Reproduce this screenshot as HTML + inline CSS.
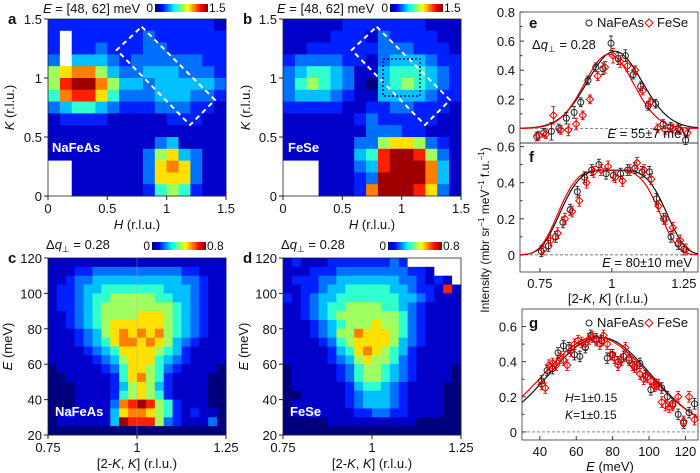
<!DOCTYPE html>
<html><head><meta charset="utf-8"><style>
body{margin:0;background:#fff;}
svg{display:block;font-family:"Liberation Sans",sans-serif;}
</style></head><body>
<svg id="fig" width="700" height="473" viewBox="0 0 700 473" xmlns="http://www.w3.org/2000/svg">
<defs>
<linearGradient id="jet" x1="0" x2="1" y1="0" y2="0">
<stop offset="0" stop-color="#00007f"/><stop offset="0.12" stop-color="#0000ff"/><stop offset="0.37" stop-color="#00ffff"/><stop offset="0.62" stop-color="#ffff00"/><stop offset="0.87" stop-color="#ff0000"/><stop offset="1" stop-color="#7f0000"/>
</linearGradient>
</defs>
<g id="root"></g>
</svg>
<script>
// ---------- heatmap data (digit levels 0..a, w = no data) ----------
const mapA = ["222222222222221","2w2222223222222","2w2232223322222","3w4443233333322","678864334443332","69aa86443444443","589975333444332","345543222333221","122221111122211","111111111111111","111111111341111","111111113674311","ww1111113787311","ww1111113777311","ww1111112565211"];
const mapB = ["111112222222111","111122213222211","112222223332221","233332213444322","345543114555432","356543104565432","344432114444322","222221122332221","111111232222211","111111133322111","111111336776321","111111459aa9631","www111349aaa841","www11123aaaa841","www11128aaa9731"];
const mapC = ["11111111111111111111","11122333333333322111","11233444444444433211","12234455555554443211","12234556666655443211","12234566666666543211","11234566667776543211","11234567777776543211","11123467878786543211","11123457887876432111","11112345777765421111","11111234677754321111","01111123577653211110","00111112578652111100","00011112467642111100","00011112567652111100","0001111389a965211100","01211114788765212110","01111114a99963211130","00000000000000000000"];
const mapD = ["12111222222232wwwwww","11122233333333221www","1222334444444332121w","11223445555544322191","21234455555554432111","11234556666554321111","11234566666665321111","11123456667665321111","11123466877765321111","11112356777764321111","11111245787654211111","11111234676653211111","01111123566543211110","01111123566543211110","01111112455432111100","00111112344432111100","01111112344432111100","01121111223322111100","00000111111111100000","00000000000000000000"];
const hkTicks = [0, 0.5, 1, 1.5];
const hkTickLabels = ["0", "0.5", "1", "1.5"];
const qTicks = [0.75, 1, 1.25];
const qTickLabels = ["0.75", "1", "1.25"];
const eTicks = [20, 40, 60, 80, 100, 120];
// ---------- cut data ----------
const eX = [0.739,0.764,0.79,0.816,0.842,0.869,0.892,0.917,0.944,0.969,0.997,1.022,1.047,1.074,1.1,1.126,1.152,1.178,1.204,1.23,1.256];
const eNa = [-0.055,-0.03,-0.02,0.0,0.07,0.11,0.18,0.33,0.42,0.41,0.585,0.48,0.5,0.37,0.29,0.155,0.17,0.03,0.01,0.0,-0.08];
const eFe = [-0.05,-0.04,0.09,-0.01,-0.01,0.03,0.09,0.2,0.36,0.42,0.5,0.46,0.43,0.4,0.26,0.18,0.0,-0.01,0.0,-0.01,-0.03];
const eErr = [0.03,0.03,0.06,0.03,0.04,0.04,0.03,0.03,0.03,0.04,0.05,0.04,0.04,0.03,0.03,0.03,0.03,0.03,0.03,0.03,0.03];
const fX = [0.755,0.78,0.805,0.83,0.855,0.88,0.905,0.93,0.955,0.98,1.005,1.03,1.055,1.08,1.105,1.13,1.155,1.18,1.205,1.23,1.25];
const fNa = [0.02,0.05,0.1,0.18,0.25,0.35,0.43,0.47,0.5,0.45,0.44,0.45,0.47,0.48,0.46,0.46,0.31,0.2,0.1,0.06,0.03];
const fFe = [0.03,0.08,0.12,0.2,0.24,0.3,0.4,0.46,0.47,0.49,0.43,0.41,0.47,0.51,0.47,0.42,0.27,0.2,0.15,0.08,0.03];
const gNaE = [41,44,47,50,53,56,59,62,65,68,71,74,77,80,83,86,89,92,95,98,101,104,107,110,113,116,119,122,125];
const gNa = [0.29,0.35,0.36,0.45,0.49,0.48,0.44,0.43,0.48,0.55,0.53,0.52,0.42,0.44,0.4,0.43,0.41,0.37,0.39,0.32,0.24,0.27,0.25,0.2,0.16,0.1,0.05,0.11,0.16];
const gFeE = [41,43,45,47,49,51,53,55,57,59,61,63,65,67,69,71,73,75,77,79,81,83,85,87,89,91,93,95,97,99,101,103,105,107,109,111,113,116,119,122,125];
const gFe = [0.27,0.25,0.38,0.39,0.38,0.42,0.41,0.38,0.46,0.5,0.52,0.51,0.5,0.53,0.54,0.52,0.5,0.55,0.5,0.44,0.42,0.38,0.41,0.48,0.42,0.38,0.37,0.33,0.3,0.31,0.29,0.26,0.27,0.17,0.15,0.14,0.15,0.2,0.06,0.2,0.07];
// fit parameters [amplitude, center, width]
const fitE_Na = [0.53, 1.01, 0.095];
const fitE_Fe = [0.51, 0.99, 0.085];
const fitF_Na = [0.47, 1.005, 0.17];
const fitF_Fe = [0.47, 0.99, 0.162];
const fitG_Na = [0.54, 73, 28];
const fitG_Fe = [0.54, 71, 29];

const NS = "http://www.w3.org/2000/svg";
const root = document.getElementById("root");
const cmap = {'0':'#00007f','1':'#0000c8','2':'#0020ff','3':'#0070ff','4':'#00c0ff','5':'#30ffd0','6':'#a0ff60','7':'#ffe000','8':'#ff8000','9':'#ff2000','a':'#a00000','w':'#ffffff'};
function mk(tag, attrs, parent) {
  const el = document.createElementNS(NS, tag);
  for (const k in attrs) el.setAttribute(k, attrs[k]);
  (parent || root).appendChild(el);
  return el;
}
function txt(x, y, s, size, anchor, parent, extra) {
  const t = mk("text", Object.assign({x: x, y: y, "font-size": size, "text-anchor": anchor || "start", fill: "#111"}, extra || {}), parent);
  t.textContent = s;
  
  
  return t;
}
function lin(d0, d1, r0, r1) { return v => r0 + (v - d0) * (r1 - r0) / (d1 - d0); }

function heatmap(name, grid, x0, y0, w, h, xd, yd, xt, xtl, yt, ytl, xtitle, ytitle, yTitleX) {
  const g = mk("g", {});
  
  
  const rows = grid.length, cols = grid[0].length;
  const cw = w / cols, ch = h / rows;
  grid.forEach((row, r) => {
    for (let c = 0; c < cols; c++) {
      const cell = mk("rect", {x: x0 + c * cw, y: y0 + r * ch, width: cw + 0.4, height: ch + 0.4, fill: cmap[row[c]]}, g);
      
      
    }
  });
  const fr = mk("rect", {x: x0, y: y0, width: w, height: h, fill: "none", stroke: "#222", "stroke-width": 0.8}, g);
  
  
  const sx = lin(xd[0], xd[1], x0, x0 + w), sy = lin(yd[0], yd[1], y0 + h, y0);
  xt.forEach((v, i) => {
    mk("line", {x1: sx(v), x2: sx(v), y1: y0 + h, y2: y0 + h + 4, stroke: "#222"}, g);
    txt(sx(v), y0 + h + 17, xtl[i], 13, "middle", g);
  });
  yt.forEach((v, i) => {
    mk("line", {x1: x0 - 4, x2: x0, y1: sy(v), y2: sy(v), stroke: "#222"}, g);
    txt(x0 - 6, sy(v) + 5, ytl[i], 13, "end", g);
  });
  const xtt = txt(x0 + w / 2, y0 + h + 33, "", 13, "middle", g);
  xtt.innerHTML = xtitle;
  const ytt = txt(0, 0, "", 13, "middle", g, {transform: "translate(" + yTitleX + "," + (y0 + h / 2) + ") rotate(-90)"});
  ytt.innerHTML = ytitle;
  return {sx, sy};
}

const A = heatmap("heatmap-a", mapA, 48, 19, 178, 177, [0, 1.5], [0, 1.5], hkTicks, hkTickLabels, hkTicks, hkTickLabels, '<tspan font-style="italic">H</tspan> (r.l.u.)', '<tspan font-style="italic">K</tspan> (r.l.u.)', 14);
const B = heatmap("heatmap-b", mapB, 283, 19, 178, 177, [0, 1.5], [0, 1.5], hkTicks, hkTickLabels, hkTicks, hkTickLabels, '<tspan font-style="italic">H</tspan> (r.l.u.)', '<tspan font-style="italic">K</tspan> (r.l.u.)', 250);
const C = heatmap("heatmap-c", mapC, 48, 258, 178, 177, [0.75, 1.25], [20, 120], qTicks, qTickLabels, eTicks, eTicks.map(String), '[2-<tspan font-style="italic">K</tspan>, <tspan font-style="italic">K</tspan>] (r.l.u.)', '<tspan font-style="italic">E</tspan>  (meV)', 12);
const D = heatmap("heatmap-d", mapD, 283, 258, 178, 177, [0.75, 1.25], [20, 120], qTicks, qTickLabels, eTicks, eTicks.map(String), '[2-<tspan font-style="italic">K</tspan>, <tspan font-style="italic">K</tspan>] (r.l.u.)', '<tspan font-style="italic">E</tspan>  (meV)', 248);
mk("line", {x1: C.sx(1), x2: C.sx(1), y1: 258, y2: 435, stroke: "#aac", "stroke-width": 0.6, opacity: 0.6});

// dashed boxes
[[0,0],[235,0]].forEach(o => {
  const p = mk("polygon", {points: [[141.7,26.7],[215,100],[190,125],[116.7,50]].map(q => (q[0]+o[0]) + "," + q[1]).join(" "), fill: "none", stroke: "#fff", "stroke-width": 2, "stroke-dasharray": "5,4"});
  
  
});
const sq = mk("rect", {x: 383, y: 59, width: 37, height: 37, fill: "none", stroke: "#0000a0", "stroke-width": 1.5, "stroke-dasharray": "2,2"});



// panel labels & titles
[["a",8,24],["b",243,24],["c",8,263],["d",243,263],["e",529,28],["f",529,162],["g",529,328]].forEach(p => {
  const t = txt(p[1], p[2], p[0], 15, "start", null, {"font-weight": "bold"});
  
});
function wlabel(x, y, s) { const t = txt(x, y, s, 13, "start", null, {fill: "#fff", "font-weight": "bold"});  }
wlabel(52, 152, "NaFeAs"); wlabel(288, 152, "FeSe"); wlabel(55, 416, "NaFeAs"); wlabel(290, 416, "FeSe");
const t1 = txt(43, 13, "", 13); t1.innerHTML = '<tspan font-style="italic">E</tspan> = [48, 62] meV';
const t2 = txt(277, 13, "", 13); t2.innerHTML = '<tspan font-style="italic">E</tspan> = [48, 62] meV';
const t3 = txt(46, 249, "", 13); t3.innerHTML = 'Δ<tspan font-style="italic">q</tspan><tspan font-size="9" dy="3">⊥</tspan><tspan dy="-3"> = 0.28</tspan>';
const t4 = txt(281, 249, "", 13); t4.innerHTML = 'Δ<tspan font-style="italic">q</tspan><tspan font-size="9" dy="3">⊥</tspan><tspan dy="-3"> = 0.28</tspan>';
function cbar(x, y, w, lo, hi) {
  const r = mk("rect", {x: x, y: y, width: w, height: 8, fill: "url(#jet)"});
  
  
  txt(x - 2, y + 8, lo, 12, "end"); txt(x + w + 1, y + 8, hi, 12, "start");
}
cbar(155, 4, 53, "0", "1.5"); cbar(390, 4, 53, "0", "1.5"); cbar(152, 242, 54, "0", "0.8"); cbar(388, 242, 54, "0", "0.8");

// ---------- line panels ----------
function linePanel(name, x0, y0, x1, y1, xd, yd, yt, ytl, minor) {
  const g = mk("g", {});
  
  
  const sx = lin(xd[0], xd[1], x0, x1), sy = lin(yd[0], yd[1], y1, y0);
  const fr = mk("rect", {x: x0, y: y0, width: x1 - x0, height: y1 - y0, fill: "none", stroke: "#333", "stroke-width": 0.8}, g);
  
  
  yt.forEach((v, i) => {
    mk("line", {x1: x0, x2: x0 + 4, y1: sy(v), y2: sy(v), stroke: "#333"}, g);
    txt(x0 - 5, sy(v) + 5, ytl[i], 13, "end", g);
  });
  minor.forEach(v => mk("line", {x1: x0, x2: x0 + 2.5, y1: sy(v), y2: sy(v), stroke: "#333"}, g));
  mk("line", {x1: x0, x2: x1, y1: sy(0), y2: sy(0), stroke: "#444", "stroke-dasharray": "3,2", "stroke-width": 0.7}, g);
  return {g, sx, sy};
}
function points(P, xs, ys, err, color, shape, dx) {
  xs.forEach((xv, i) => {
    const cx = P.sx(xv) + dx, cy = P.sy(ys[i]);
    const e = err ? err[i] : 0.03;
    mk("line", {x1: cx, x2: cx, y1: P.sy(ys[i] + e), y2: P.sy(ys[i] - e), stroke: color, "stroke-width": 0.9}, P.g);
    mk("line", {x1: cx - 2, x2: cx + 2, y1: P.sy(ys[i] + e), y2: P.sy(ys[i] + e), stroke: color, "stroke-width": 0.9}, P.g);
    mk("line", {x1: cx - 2, x2: cx + 2, y1: P.sy(ys[i] - e), y2: P.sy(ys[i] - e), stroke: color, "stroke-width": 0.9}, P.g);
    let m;
    if (shape === "o") m = mk("circle", {cx: cx, cy: cy, r: 3, fill: "none", stroke: color, "stroke-width": 1}, P.g);
    else m = mk("polygon", {points: [cx, cy - 3.6, cx + 3.6, cy, cx, cy + 3.6, cx - 3.6, cy].join(" "), fill: "none", stroke: color, "stroke-width": 1}, P.g);
    
    
  });
}
function curve(P, xd, fn, color) {
  let d = "";
  for (let i = 0; i <= 200; i++) { const xv = xd[0] + (xd[1] - xd[0]) * i / 200; d += (i ? "L" : "M") + P.sx(xv).toFixed(1) + "," + P.sy(fn(xv)).toFixed(1); }
  const p = mk("path", {d: d, fill: "none", stroke: color, "stroke-width": 1.2}, P.g);
  
  
}
const gauss = p => x => p[0] * Math.exp(-Math.pow(x - p[1], 2) / (2 * p[2] * p[2]));
const flat = p => x => p[0] * Math.exp(-Math.pow((x - p[1]) / p[2], 4) / 2);
const qd = [0.681, 1.299];
const E = linePanel("cut-panel-e", 520, 12, 698, 143, qd, [-0.1, 0.8], [0, 0.2, 0.4, 0.6, 0.8], ["0", "0.2", "0.4", "0.6", "0.8"], [-0.1, 0.1, 0.3, 0.5, 0.7]);
curve(E, qd, gauss(fitE_Na), "#111"); curve(E, qd, gauss(fitE_Fe), "#e00");
points(E, eX, eNa, eErr, "#222", "o", 0); points(E, eX, eFe, eErr, "#e00", "d", 2);
const F = linePanel("cut-panel-f", 520, 143, 698, 272, qd, [-0.095, 0.62], [0, 0.2, 0.4, 0.6], ["0", "0.2", "0.4", "0.6"], [0.1, 0.3, 0.5]);
curve(F, qd, flat(fitF_Na), "#111"); curve(F, qd, flat(fitF_Fe), "#e00");
points(F, fX, fNa, null, "#222", "o", 0); points(F, fX, fFe, null, "#e00", "d", 2);
qTicks.forEach((v, i) => { mk("line", {x1: F.sx(v), x2: F.sx(v), y1: 272, y2: 268, stroke: "#333"}); txt(F.sx(v), 288, qTickLabels[i], 13, "middle"); });
const ft = txt(608, 303, "", 13, "middle"); ft.innerHTML = '[2-<tspan font-style="italic">K</tspan>, <tspan font-style="italic">K</tspan>] (r.l.u.)';
const gd = [30.2, 126.9];
const G = linePanel("cut-panel-g", 522, 309, 698, 440, gd, [-0.046, 0.7], [0, 0.2, 0.4, 0.6], ["0", "0.2", "0.4", "0.6"], [0.1, 0.3, 0.5]);
curve(G, gd, gauss(fitG_Na), "#111"); curve(G, gd, gauss(fitG_Fe), "#e00");
points(G, gNaE, gNa, null, "#222", "o", 0); points(G, gFeE, gFe, null, "#e00", "d", 0);
const gTicks = [40, 60, 80, 100, 120];
gTicks.forEach(v => { mk("line", {x1: G.sx(v), x2: G.sx(v), y1: 440, y2: 436, stroke: "#333"}); txt(G.sx(v), 456, String(v), 13, "middle"); });
const gt = txt(610, 471, "", 13, "middle"); gt.innerHTML = '<tspan font-style="italic">E</tspan> (meV)';
// texts in panels
const dq = txt(532, 49, "", 13); dq.innerHTML = 'Δ<tspan font-style="italic">q</tspan><tspan font-size="9" dy="3">⊥</tspan><tspan dy="-3"> = 0.28</tspan>';
const e1 = txt(690, 138, "", 13, "end"); e1.innerHTML = '<tspan font-style="italic">E</tspan> = 55±7 meV';
const f1 = txt(692, 267, "", 13, "end"); f1.innerHTML = '<tspan font-style="italic">E</tspan>  = 80±10 meV';
const h1 = txt(565, 402, "", 12); h1.innerHTML = '<tspan font-style="italic">H</tspan>=1±0.15';
const k1 = txt(565, 419, "", 12); k1.innerHTML = '<tspan font-style="italic">K</tspan>=1±0.15';
function legend(y) {
  const c = mk("circle", {cx: 589, cy: y - 4, r: 3, fill: "none", stroke: "#222"}); 
  txt(597, y, "NaFeAs", 13);
  const d = mk("polygon", {points: [649, y - 8, 653, y - 4, 649, y, 645, y - 4].join(" "), fill: "none", stroke: "#e00"}); 
  txt(657, y, "FeSe", 13);
}
legend(27); legend(327);
const yt = txt(0, 0, "", 12, "middle", null, {transform: "translate(489,230) rotate(-90)"});
yt.innerHTML = 'Intensity (mbr sr<tspan font-size="8" dy="-5">−1</tspan><tspan dy="5"> meV</tspan><tspan font-size="8" dy="-5">−1</tspan><tspan dy="5"> f.u.</tspan><tspan font-size="8" dy="-5">−1</tspan><tspan dy="5">)</tspan>';
</script>
</body></html>
